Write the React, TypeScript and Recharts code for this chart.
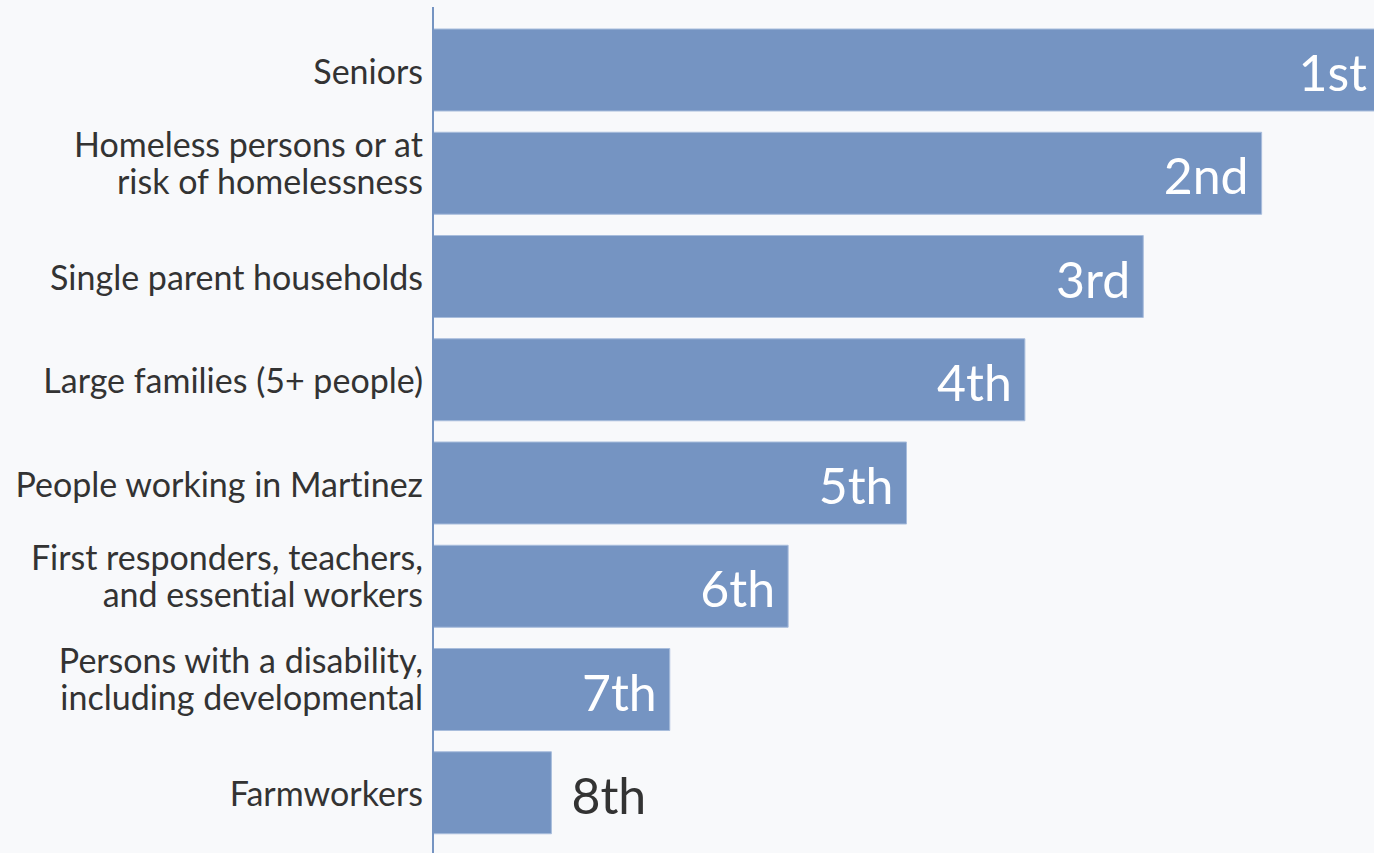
import { BarChart, Bar, XAxis, YAxis, LabelList } from "recharts";

const categories = [
  "Seniors",
  "Homeless persons or at\nrisk of homelessness",
  "Single parent households",
  "Large families (5+ people)",
  "People working in Martinez",
  "First responders, teachers,\nand essential workers",
  "Persons with a disability,\nincluding developmental",
  "Farmworkers",
];
const scores = [8, 7, 6, 5, 4, 3, 2, 1];
const ranks = ["1st", "2nd", "3rd", "4th", "5th", "6th", "7th", "8th"];

const data = categories.map((name, i) => ({ name, score: scores[i], rank: ranks[i] }));

const FONT = "Lato, 'Noto Sans', sans-serif";
const BAR = "#7594c2";

// multi-line category label, right aligned against the axis
function CategoryTick(props: any) {
  const { x, y, payload } = props;
  const lines = String(payload.value).split("\n");
  const lh = 37;
  const first = lines.length === 1 ? y + 14 : y - 16;
  return (
    <text
      x={x}
      y={first}
      textAnchor="end"
      fill="#333"
      fontSize={34}
      fontFamily={FONT}
      style={{ fontVariantLigatures: "none" }}
    >
      {lines.map((l, i) => (
        <tspan key={i} x={x} y={first + i * lh}>
          {l}
        </tspan>
      ))}
    </text>
  );
}

function RankLabel(props: any) {
  const { x, y, width, height, value } = props;
  const inside = width > 130;
  return (
    <text
      x={inside ? x + width - 13 : x + width + 20}
      y={y + height / 2 + 2}
      textAnchor={inside ? "end" : "start"}
      dominantBaseline="central"
      fill={inside ? "#fff" : "#333"}
      fontSize={50}
      fontFamily={FONT}
    >
      {value}
    </text>
  );
}

export default function App() {
  return (
    <div style={{ width: 1374, height: 853, background: "#f8f9fb", overflow: "hidden" }}>
      <style>{"body{margin:0}"}</style>
      <BarChart
        width={1374}
        height={853}
        data={data}
        layout="vertical"
        margin={{ top: 7, right: -6, bottom: 0, left: 0 }}
        style={{ overflow: "hidden" }}
      >
        <XAxis type="number" domain={[0, 8]} hide />
        <YAxis
          type="category"
          dataKey="name"
          width={433}
          padding={{ top: 11, bottom: 9 }}
          axisLine={{ stroke: BAR, strokeWidth: 2 }}
          tickLine={false}
          tick={<CategoryTick />}
          tickMargin={4}
          interval={0}
        />
        <Bar dataKey="score" fill={BAR} stroke="#a8bddc" strokeWidth={1} barSize={82} isAnimationActive={false}>
          <LabelList dataKey="rank" content={<RankLabel />} />
        </Bar>
      </BarChart>
    </div>
  );
}
